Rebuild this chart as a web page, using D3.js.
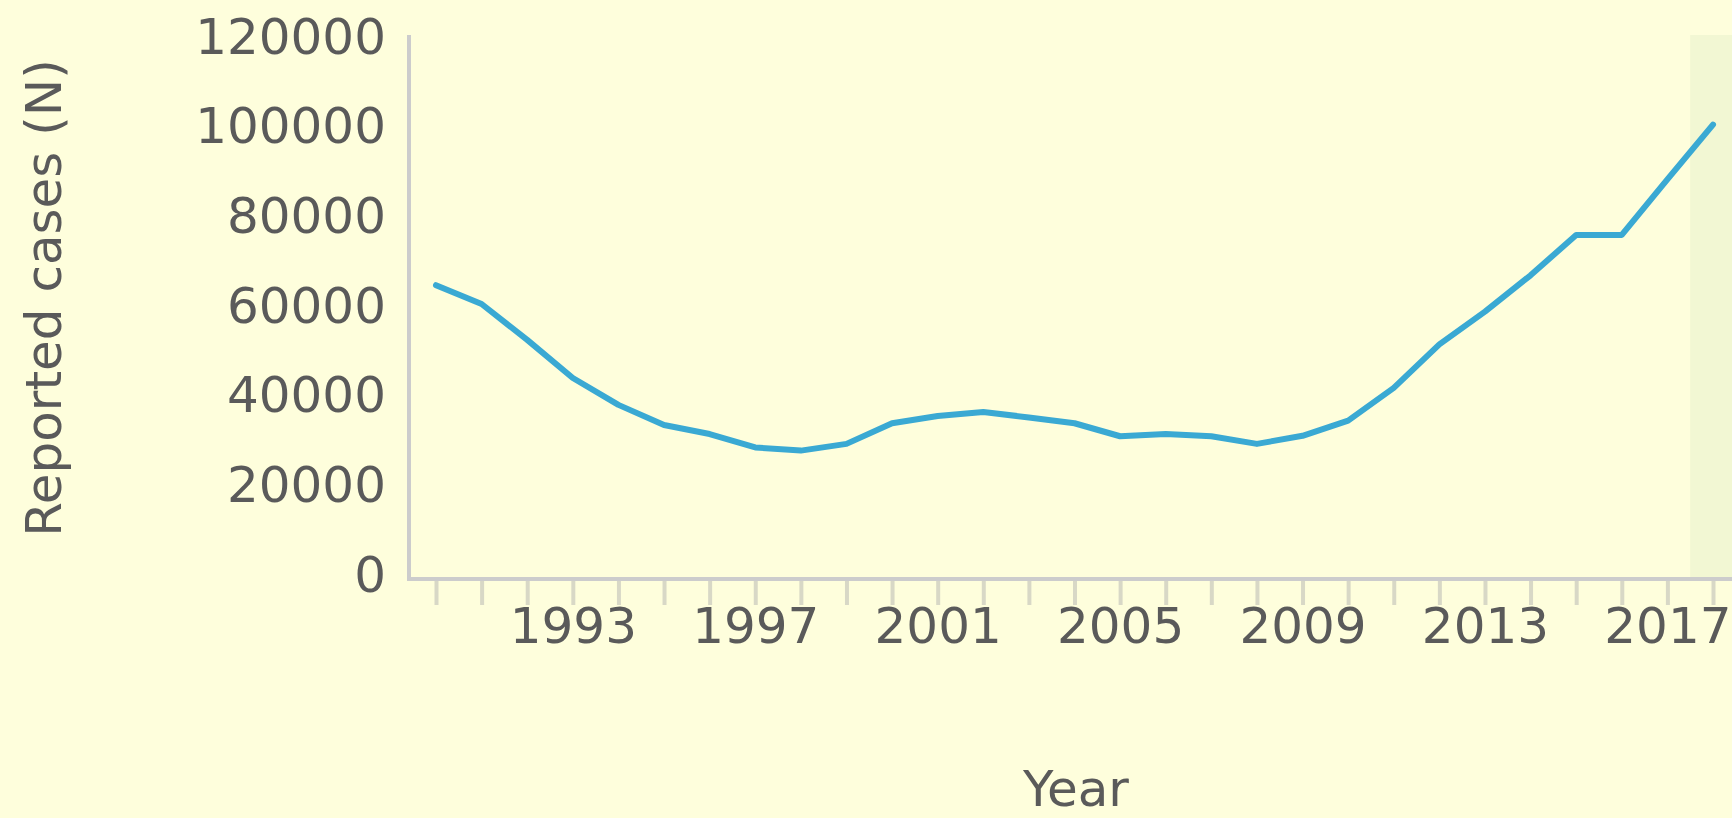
<!DOCTYPE html>
<html>
<head>
<meta charset="utf-8">
<script src="https://cdn.jsdelivr.net/npm/d3@7"></script>
<style>
	body { margin: 0; background: #fefedc; }
	svg { display: block; }
</style>
</head>
<body>
<svg id="chart" width="1732" height="818"></svg>
<script>
const years = [1990, 1991, 1992, 1993, 1994, 1995, 1996, 1997, 1998, 1999,
	2000, 2001, 2002, 2003, 2004, 2005, 2006, 2007, 2008, 2009,
	2010, 2011, 2012, 2013, 2014, 2015, 2016, 2017, 2018]
const cases = [64200, 60000, 52000, 43500, 37500, 33000, 31000, 28000, 27300, 28800,
	33400, 35000, 35900, 34700, 33400, 30500, 31000, 30500, 28800, 30600,
	34000, 41300, 51000, 58300, 66400, 75400, 75400, 87800, 100000]
const yTicks = [0, 20000, 40000, 60000, 80000, 100000, 120000]
const xLabelYears = [1993, 1997, 2001, 2005, 2009, 2013, 2017]
const highlightYear = 2018

const data = years.map((yr, i) => ({year: yr, value: cases[i]}))

const svg = d3.select('#chart')
const width = +svg.attr('width')
const height = +svg.attr('height')

const axisLeftX = 409
const axisBottomY = 579
const font = '"DejaVu Sans", Verdana, sans-serif'
const textColor = '#5a5a5a'
const axisColor = '#cccccc'

svg.append('rect')
	.attr('width', width)
	.attr('height', height)
	.attr('fill', '#fefedc')

const xScale = d3.scaleLinear()
	.domain([1990, 2018])
	.range([436, 1713])

const yScale = d3.scaleLinear()
	.domain([0, 120000])
	.range([573, 35])

// shaded band for the last year
svg.append('rect')
	.attr('x', xScale(highlightYear - 0.5))
	.attr('y', yScale(120000))
	.attr('width', width - xScale(highlightYear - 0.5))
	.attr('height', axisBottomY - yScale(120000))
	.attr('fill', '#f2f7d3')

// x axis
const xAxis = d3.axisBottom(xScale)
	.tickValues(years)
	.tickSize(26)
	.tickSizeOuter(0)
	.tickFormat(d => xLabelYears.includes(d) ? d : '')

const xAxisG = svg.append('g')
	.attr('transform', `translate(0, ${axisBottomY})`)
	.call(xAxis)

xAxisG.select('.domain').remove()

xAxisG.selectAll('.tick line')
	.attr('stroke', '#d8d8c6')
	.attr('stroke-width', 4)

xAxisG.selectAll('.tick text')
	.attr('y', 28)
	.attr('dy', '0.71em')
	.attr('fill', textColor)
	.style('font-family', font)
	.style('font-size', '50px')

svg.append('line')
	.attr('x1', axisLeftX - 2)
	.attr('x2', width)
	.attr('y1', axisBottomY)
	.attr('y2', axisBottomY)
	.attr('stroke', axisColor)
	.attr('stroke-width', 4)

// y axis
const yAxis = d3.axisLeft(yScale)
	.tickValues(yTicks)
	.tickSize(0)
	.tickFormat(d3.format('d'))

const yAxisG = svg.append('g')
	.attr('transform', `translate(${axisLeftX}, 0)`)
	.call(yAxis)

yAxisG.select('.domain').remove()

yAxisG.selectAll('.tick text')
	.attr('x', -23)
	.attr('dy', '0.36em')
	.attr('fill', textColor)
	.style('font-family', font)
	.style('font-size', '50px')

svg.append('line')
	.attr('x1', axisLeftX)
	.attr('x2', axisLeftX)
	.attr('y1', yScale(120000))
	.attr('y2', axisBottomY + 2)
	.attr('stroke', axisColor)
	.attr('stroke-width', 4)

// the line
const line = d3.line()
	.x(d => xScale(d.year))
	.y(d => yScale(d.value))

svg.append('path')
	.datum(data)
	.attr('d', line)
	.attr('fill', 'none')
	.attr('stroke', '#3aa9d3')
	.attr('stroke-width', 6)
	.attr('stroke-linejoin', 'round')
	.attr('stroke-linecap', 'round')

// axis titles
svg.append('text')
	.text('Reported cases (N)')
	.attr('transform', 'translate(61, 298) rotate(-90)')
	.attr('text-anchor', 'middle')
	.attr('fill', textColor)
	.style('font-family', font)
	.style('font-size', '50px')

svg.append('text')
	.text('Year')
	.attr('x', 1076)
	.attr('y', 806)
	.attr('text-anchor', 'middle')
	.attr('fill', textColor)
	.style('font-family', font)
	.style('font-size', '50px')
</script>
</body>
</html>
